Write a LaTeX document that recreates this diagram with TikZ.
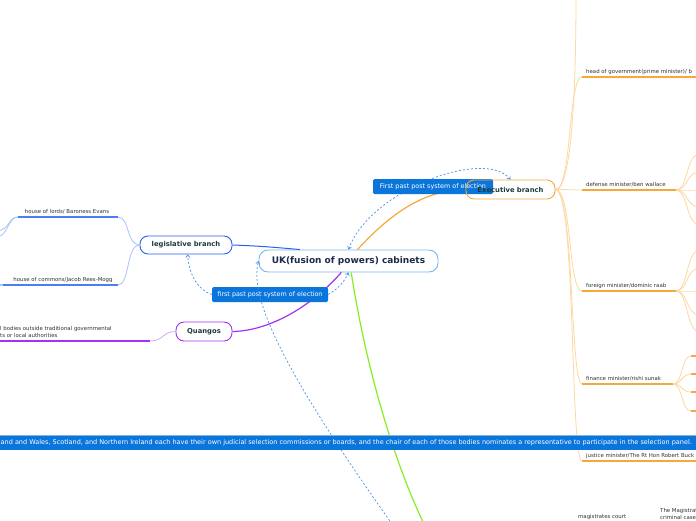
\documentclass[tikz,border=0pt]{standalone}
\usepackage{fontspec}
\setmainfont{DejaVu Sans}
\usetikzlibrary{arrows.meta,calc}
\pgfdeclarelayer{front}
\pgfsetlayers{main,front}
\definecolor{ukborder}{HTML}{7DB6E6}
\definecolor{uktext}{HTML}{1C2B4A}
\definecolor{brtext}{HTML}{1E3B3B}
\definecolor{legblue}{HTML}{2563EB}
\definecolor{legline}{HTML}{4B7FF0}
\definecolor{leglight}{HTML}{A9C2F8}
\definecolor{exorange}{HTML}{F7A83A}
\definecolor{exlight}{HTML}{FDD8A2}
\definecolor{qpurple}{HTML}{A233F0}
\definecolor{qlight}{HTML}{D9A8F6}
\definecolor{lime}{HTML}{84F020}
\definecolor{lblblue}{HTML}{0A76DC}
\definecolor{reldash}{HTML}{4A92E4}
\definecolor{childtext}{HTML}{333333}
\tikzset{
  mainbox/.style={draw=ukborder, line width=0.9pt, fill=white, rounded corners=9pt,
    minimum width=179pt, minimum height=22pt, inner sep=0pt, text=uktext,
    font=\fontsize{9}{10}\selectfont\bfseries},
  branchbox/.style={line width=0.9pt, fill=white, rounded corners=8pt,
    inner sep=0pt, text=brtext, font=\fontsize{6.8}{7}\selectfont\bfseries},
  lblbox/.style={fill=lblblue, text=white, rounded corners=1.5pt, inner sep=0pt,
    minimum height=15pt, font=\fontsize{6.4}{7}\selectfont},
  childlbl/.style={text=childtext, inner sep=0pt, anchor=base west,
    font=\fontsize{5.4}{6}\selectfont},
  rel/.style={reldash, line width=0.7pt, dash pattern=on 2pt off 2pt},
  tip/.style={-{Straight Barb[length=2.5pt,width=4pt]}},
  tips/.style={{Straight Barb[length=2.5pt,width=4pt]}-{Straight Barb[length=2.5pt,width=4pt]}},
  exconn/.style={exlight, line width=0.8pt},
  exline/.style={exorange, line width=1.8pt},
}
\begin{document}
\begin{tikzpicture}[x=1pt,y=-1pt]
\useasboundingbox (0,0) rectangle (696,520);
\fill[white] (0,0) rectangle (696,520);

% main nodes
\node[mainbox] (uk) at (348.5,261) {UK(fusion of powers) cabinets};
\node[branchbox, draw=legblue, minimum width=92pt, minimum height=18pt] (leg) at (186,245) {legislative branch};
\begin{pgfonlayer}{front}
\node[branchbox, draw=exorange, fill=none, minimum width=89pt, minimum height=19pt] (exe) at (510.5,189.5) {Executive branch};
\end{pgfonlayer}
\node[branchbox, draw=qpurple, minimum width=56pt, minimum height=19pt] (qua) at (204,331.5) {Quangos};

% main connectors
\draw[legblue, line width=1pt] (leg.east) .. controls (262,246) and (282,248) .. ($(uk.north west)!0.23!(uk.north east)$);
\draw[exorange, line width=1.2pt] ($(uk.north west)!0.55!(uk.north east)$) .. controls (392,212) and (425,190) .. (exe.west);
\draw[qpurple, line width=1.2pt] ($(uk.south west)!0.46!(uk.south east)$) .. controls (310,308) and (268,331) .. (qua.east);
\coordinate (gend) at (424,524);
\draw[lime, line width=1.2pt] ($(uk.south west)!0.515!(uk.south east)$) .. controls (368,380) and (398,470) .. (gend);

% legislative children
\coordinate (lordsR) at (118,217);
\coordinate (lordsL) at (18,217);
\coordinate (commR) at (118,285);
\coordinate (commL) at (3,285);
\coordinate (commE) at (-3,285);
\coordinate (lo1) at (-3,231);
\coordinate (lo2) at (-3,237);
\draw[leglight, line width=0.8pt] (leg.west) .. controls (126,245) and (130,217) .. (lordsR);
\draw[leglight, line width=0.8pt] (leg.west) .. controls (126,245) and (130,285) .. (commR);
\draw[legline, line width=1.8pt] (lordsL) -- (lordsR);
\draw[legline, line width=1.8pt] (commL) -- (commR);
\draw[leglight, line width=1.4pt] (commE) -- (commL);
\draw[leglight, line width=0.8pt] (lordsL) .. controls (8,217) and (10,230) .. (lo1);
\draw[leglight, line width=0.8pt] (lordsL) .. controls (8,217) and (8,236) .. (lo2);
\node[childlbl, anchor=base] (lords) at (67,213) {house of lords/ Baroness Evans};
\node[childlbl, anchor=base] (comm) at (63,281) {house of commons/Jacob Rees-Mogg};

% quangos child
\coordinate (quR) at (150,341);
\coordinate (quL) at (-3,341);
\draw[qlight, line width=0.8pt] (quR) .. controls (164,341) and (162,331.5) .. (qua.west);
\draw[qpurple, line width=1.8pt] (quL) -- (quR);
\node[childlbl, anchor=base west, align=left] (qut1) at (0,330) {l bodies outside traditional governmental};
\node[childlbl, anchor=base west, align=left] (qut2) at (0,337.5) {ts or local authorities};

% executive children connectors
\coordinate (eTop) at (576,-5);
\coordinate (hogL) at (582,77);   \coordinate (hogR) at (700,77);
\coordinate (defL) at (582,190);  \coordinate (defR) at (676,190);
\coordinate (forL) at (582,291);  \coordinate (forR) at (676,291);
\coordinate (finL) at (582,384);  \coordinate (finR) at (673,384);
\coordinate (jusL) at (582,461);  \coordinate (jusR) at (700,461);
\draw[exconn] (exe.east) .. controls (574,189.5) and (576,60) .. (eTop);
\draw[exconn] (exe.east) .. controls (572,189.5) and (568,77) .. (hogL);
\draw[exconn] (exe.east) .. controls (570,189.5) and (570,190) .. (defL);
\draw[exconn] (exe.east) .. controls (572,189.5) and (568,291) .. (forL);
\draw[exconn] (exe.east) .. controls (574,189.5) and (570,384) .. (finL);
\draw[exconn] (exe.east) .. controls (576,189.5) and (570,461) .. (jusL);
\draw[exline] (hogL) -- (hogR);
\draw[exline] (defL) -- (defR);
\draw[exline] (forL) -- (forR);
\draw[exline] (finL) -- (finR);
\draw[exline] (jusL) -- (jusR);
\node[childlbl] (hog) at (586,73) {head of government(prime minister)/ b};
\node[childlbl] (def) at (586,186) {defense minister/ben wallace};
\node[childlbl] (for) at (586,287) {foreign minister/dominic raab};
\node[childlbl] (fin) at (586,380) {finance minister/rishi sunak};
\node[childlbl] (jus) at (586,457.5) {justice minister/The Rt Hon Robert Buck};

% defense fan
\foreach \yy [count=\i] in {154,172,190,207,225}{
  \coordinate (d\i) at (700,\yy);
  \draw[exconn] (defR) .. controls (688,190) and (686,\yy) .. (d\i);
}
% foreign fan
\foreach \yy [count=\i] in {250,268,291,315,332}{
  \coordinate (f\i) at (700,\yy);
  \draw[exconn] (forR) .. controls (688,291) and (686,\yy) .. (f\i);
}
% finance fan with stubs
\foreach \yy [count=\i] in {356,374,392,411}{
  \coordinate (s\i) at (691,\yy);
  \coordinate (t\i) at (700,\yy);
  \draw[exconn] (finR) .. controls (683,384) and (681,\yy) .. (s\i);
  \draw[exline] (s\i) -- (t\i);
}

% relationship 1 (legislative - central) with label
\node[lblbox, minimum width=116pt] (r1) at (270,294.5) {first past post system of election};
\draw[rel, tip] (r1.west) .. controls (198,290) and (189,275) .. (leg.-80);
\draw[rel, tip] (r1.east) .. controls (336,290) and (344,283) .. (uk.south);

% relationship 2 (central - executive) with label
\draw[rel, tips] (uk.north) .. controls (370,190) and (485,148) .. (exe.north);
\node[lblbox, minimum width=120pt] (r2) at (433,186.5) {First past post system of election};

% relationship 3 (central - below)
\coordinate (r3end) at (392,524);
\draw[rel, tip] (r3end) .. controls (290,380) and (248,300) .. (uk.west);

% banner
\node[fill=lblblue, minimum width=700pt, minimum height=15pt, inner sep=0pt] (ban) at (348,442.5) {};
\draw[ukborder, line width=0.6pt] (ban.north west) -- (ban.north east);
\node[text=white, inner sep=0pt, anchor=east, font=\fontsize{6.5}{7}\selectfont] (bantext) at (692,442.5) {and and Wales, Scotland, and Northern Ireland each have their own judicial selection commissions or boards, and the chair of each of those bodies nominates a representative to participate in the selection panel.};

% bottom texts
\node[childlbl] (mag) at (578,518) {magistrates court};
\node[childlbl] (mag2) at (660,512) {The Magistrat};
\node[childlbl] (mag3) at (660,519) {criminal case};
\end{tikzpicture}
\end{document}
